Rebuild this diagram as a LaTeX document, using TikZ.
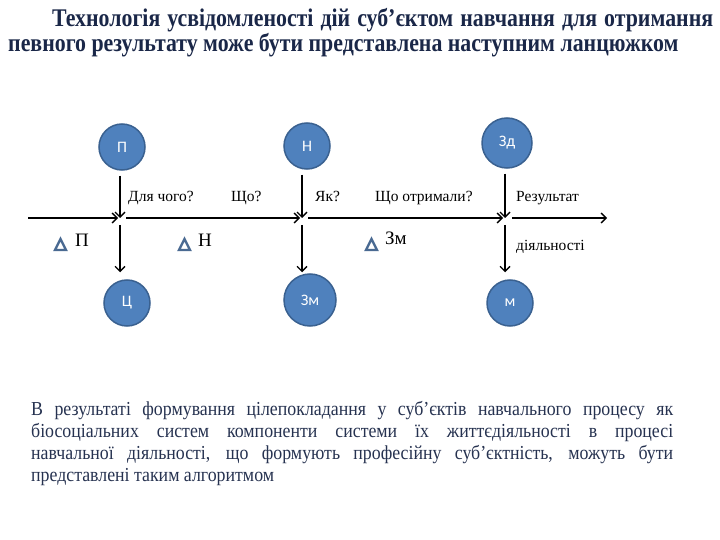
\documentclass[tikz,border=0pt]{standalone}
\usepackage{fontspec}
\setmainfont{Liberation Serif}
\newfontfamily\titleserif[FakeStretch=0.86]{Liberation Serif}
\newfontfamily\bodyserif[FakeStretch=0.9]{Liberation Serif}
\newfontfamily\circlefont{Carlito}
\usetikzlibrary{arrows.meta}

\definecolor{titleblue}{HTML}{1A2748}
\definecolor{textblue}{HTML}{263250}
\definecolor{ballfill}{HTML}{4F81BD}
\definecolor{balledge}{HTML}{3A6190}
\definecolor{deltablue}{HTML}{4A6A92}

\tikzset{
  ball/.style={circle, fill=ballfill, draw=balledge, line width=1.5pt,
    minimum size=46pt, inner sep=0pt, text=white,
    font=\circlefont\fontsize{16}{16}\selectfont},
  flow/.style={-{Straight Barb[length=5pt,width=10pt]}, line width=1.4pt},
  quest/.style={anchor=base west, inner sep=0pt,
    font=\fontsize{15.5}{15.5}\selectfont},
  deltalabel/.style={anchor=base west, inner sep=0pt,
    font=\fontsize{19}{19}\selectfont},
  delta/.style={draw=deltablue, line width=2.4pt, line join=miter}
}

\begin{document}
\begin{tikzpicture}[x=1pt,y=-1pt]
\useasboundingbox (0,0) rectangle (720,540);

% --- Заголовок ---
\node[anchor=north west, inner sep=0pt, text width=705pt, align=justify,
  text=titleblue, font=\titleserif\bfseries\fontsize{25.4}{25}\selectfont]
  (title) at (8,8)
  {\hspace*{44pt}Технологія усвідомленості дій суб’єктом навчання для отримання певного результату може бути представлена наступним ланцюжком};

% --- Кола ---
\node[ball] (p) at (122,147) {П};
\node[ball] (n) at (307,146) {Н};
\node[ball, minimum size=50pt] (zd) at (507,143) {Зд};
\node[ball] (c) at (127,303) {Ц};
\node[ball, minimum size=52pt] (zm) at (310,300) {Зм};
\node[ball] (m) at (510,303) {м};

% --- Точки на осі ---
\coordinate (start) at (28,218);
\coordinate (j1) at (120,218);
\coordinate (j2) at (302,218);
\coordinate (j3) at (505,218);
\coordinate (end) at (607,218);

% --- Вісь ---
\draw[flow] (start) -- ([xshift=-2pt]j1);
\draw[flow] ([xshift=6pt]j1) -- ([xshift=-2pt]j2);
\draw[flow] ([xshift=6pt]j2) -- ([xshift=-2pt]j3);
\draw[flow] ([xshift=7pt]j3) -- (end);

% --- Стрілки вниз ---
\draw[flow, shorten <=5pt] (p.south -| j1) -- (j1);
\draw[flow, shorten <=5pt] (n.south -| j2) -- (j2);
\draw[flow, shorten <=5pt] (zd.south -| j3) -- (j3);
\draw[flow, shorten >=7pt] ([yshift=-7pt]j1) -- (c.north -| j1);
\draw[flow, shorten >=1pt] ([yshift=-7pt]j2) -- (zm.north -| j2);
\draw[flow, shorten >=7pt] ([yshift=-7pt]j3) -- (m.north -| j3);

% --- Питання ---
\node[quest] (q1) at (128,202) {Для чого?};
\node[quest] (q2) at (231,202) {Що?};
\node[quest] (q3) at (315,202) {Як?};
\node[quest] (q4) at (375,202) {Що отримали?};
\node[quest] (q5) at (516,202) {Результат};
\node[quest] (q6) at (516,251) {діяльності};

% --- Приріст ---
\draw[delta] (55,250) -- (60.5,239) -- (66,250) -- cycle;
\draw[delta] (179,250) -- (184.5,239) -- (190,250) -- cycle;
\draw[delta] (366,250) -- (371.5,239) -- (377,250) -- cycle;
\node[deltalabel] (dp) at (75,246) {П};
\node[deltalabel] (dn) at (198,246) {Н};
\node[deltalabel] (dzm) at (385,244) {Зм};

% --- Текст ---
\node[anchor=north west, inner sep=0pt, text width=642pt, align=justify,
  text=textblue, font=\bodyserif\fontsize{19.8}{22}\selectfont]
  (body) at (31,401)
  {В результаті формування цілепокладання у суб’єктів навчального процесу як\linebreak
   біосоціальних систем компоненти системи їх життєдіяльності в процесі\linebreak
   навчальної діяльності, що формують професійну суб’єктність, можуть бути\linebreak
   представлені таким алгоритмом};

\end{tikzpicture}
\end{document}
